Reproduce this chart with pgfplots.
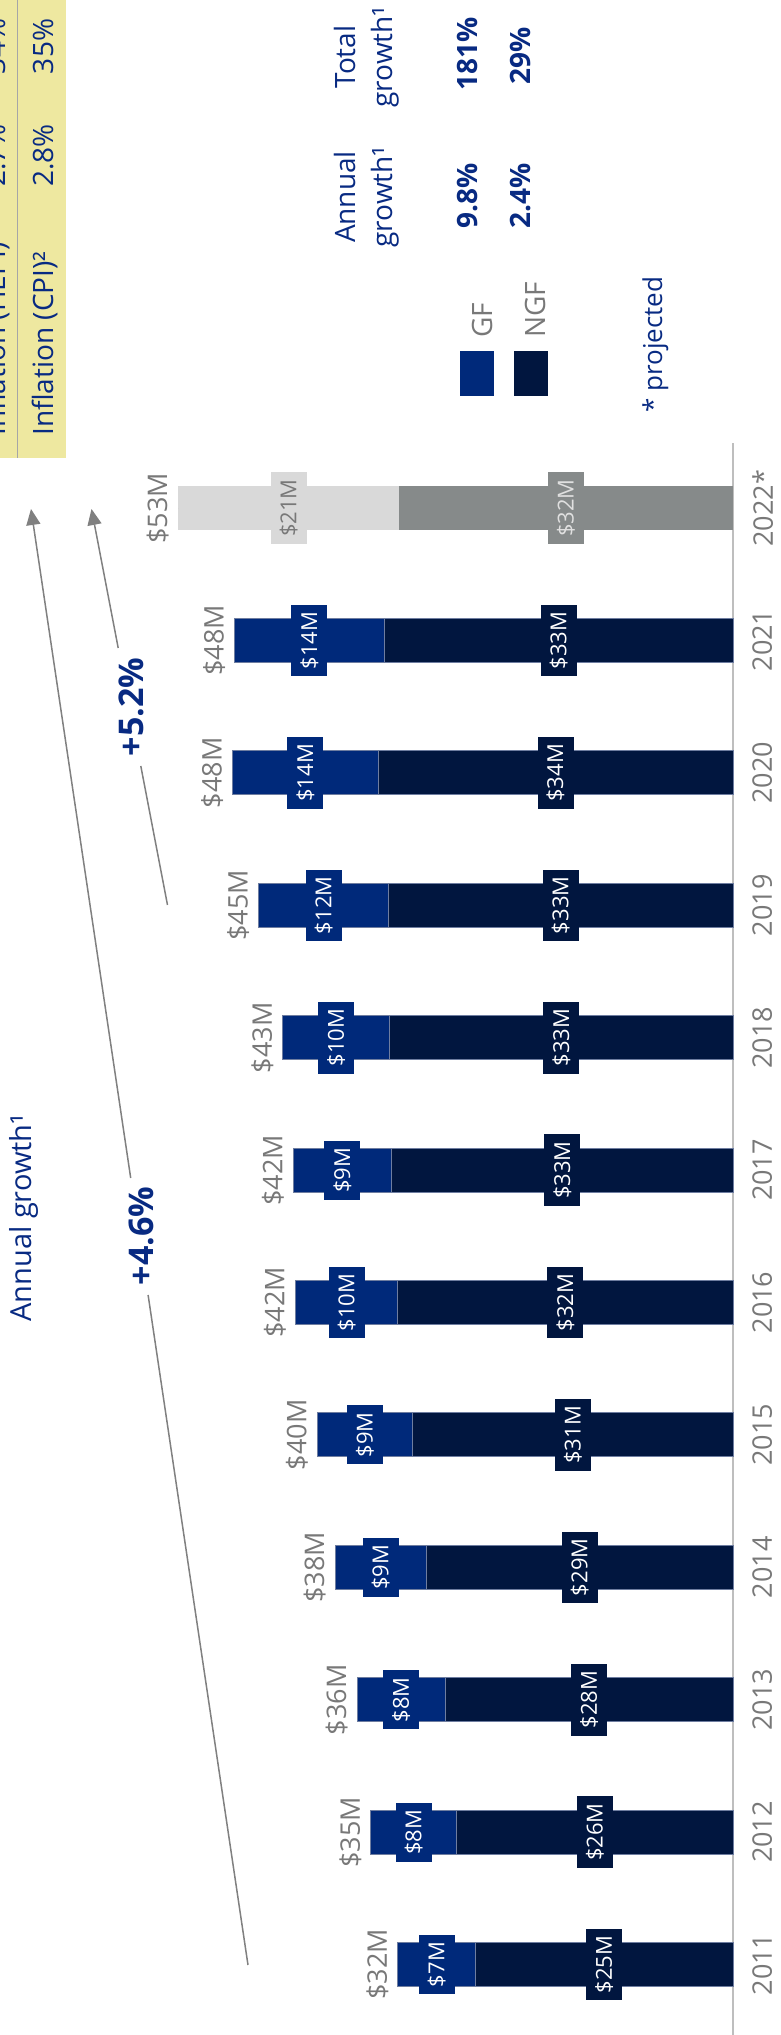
\documentclass[border=0pt]{standalone}
\usepackage{pgfplots}
\pgfplotsset{compat=1.18}
\usepackage{pgfplotstable}
\usepackage{fontspec}
\setmainfont{Open Sans}
\usetikzlibrary{arrows.meta}

\definecolor{gfc}{RGB}{0,41,122}
\definecolor{ngfc}{RGB}{1,22,63}
\definecolor{bluet}{RGB}{8,42,130}
\definecolor{graytxt}{RGB}{120,120,120}
\definecolor{axgray}{RGB}{190,190,190}
\definecolor{lg}{RGB}{217,217,217}
\definecolor{dg}{RGB}{134,138,138}
\definecolor{yel}{RGB}{238,232,160}
\definecolor{edge}{RGB}{110,125,160}
\definecolor{arrowg}{RGB}{128,128,128}

\newcommand\segf{\fontsize{11}{13}\selectfont}
\newcommand\totf{\fontsize{13.5}{15}\selectfont}
\newcommand\txtf{\fontsize{14}{16}\selectfont}

\pgfplotstableread{
y ngf gf ngfl gfl totl
0 24.6 7.4 25 7 32
1 26.4 8.2 26 8 35
2 27.5 8.4 28 8 36
3 29.3 8.7 29 9 38
4 30.6 9.1 31 9 40
5 32.0 9.8 32 10 42
6 32.6 9.4 33 9 42
7 32.8 10.2 33 10 43
8 32.9 12.4 33 12 45
9 33.9 13.9 34 14 48
10 33.3 14.3 33 14 48
}\data
\pgfplotstableread{
y ngf gf ngfl gfl totl
11 31.9 21.1 32 21 53
}\datap

\begin{document}
\begin{tikzpicture}
\path[use as bounding box] (0,0) rectangle (390.5pt,1017.5pt);
\begin{axis}[
  at={(366.5pt,796pt)}, anchor=north east,
  scale only axis, width=314.1pt, height=796pt,
  xmin=-60, xmax=0, ymin=-0.5325, ymax=11.492,
  axis x line=none, axis y line*=right,
  y axis line style={draw=axgray, line width=0.75pt},
  ytick={0,1,2,3,4,5,6,7,8,9,10,11},
  yticklabels={2011,2012,2013,2014,2015,2016,2017,2018,2019,2020,2021,2022*},
  major tick length=0pt,
  yticklabel style={xshift=9.5pt, rotate=90, anchor=north, inner sep=0pt, font=\totf, text=graytxt},
  clip=false,
]
% bars (total in GF colour, NGF on top)
\addplot[xbar, bar shift=0pt, bar width=22pt, fill=gfc, draw=edge, line width=0.5pt]
  table[x expr=-(\thisrow{ngf}+\thisrow{gf}), y=y] {\data};
\addplot[xbar, bar shift=0pt, bar width=22pt, fill=ngfc, draw=edge, line width=0.5pt]
  table[x expr=-\thisrow{ngf}, y=y] {\data};
\addplot[xbar, bar shift=0pt, bar width=22pt, fill=lg, draw=none]
  table[x expr=-(\thisrow{ngf}+\thisrow{gf}), y=y] {\datap};
\addplot[xbar, bar shift=0pt, bar width=22pt, fill=dg, draw=none]
  table[x expr=-\thisrow{ngf}, y=y] {\datap};
% segment labels
\addplot[only marks, mark=*, mark size=0pt, mark options={draw=none,fill=none},
  point meta=explicit symbolic, nodes near coords={\$\pgfplotspointmeta M},
  every node near coord/.style={anchor=center, rotate=90, fill=ngfc, text=white, font=\segf, inner xsep=3.5pt, inner ysep=0pt, minimum height=18pt}]
  table[x expr=-\thisrow{ngf}/2, y=y, meta=ngfl] {\data};
\addplot[only marks, mark=*, mark size=0pt, mark options={draw=none,fill=none},
  point meta=explicit symbolic, nodes near coords={\$\pgfplotspointmeta M},
  every node near coord/.style={anchor=center, rotate=90, fill=gfc, text=white, font=\segf, inner xsep=3.5pt, inner ysep=0pt, minimum height=18pt}]
  table[x expr=-(\thisrow{ngf}+\thisrow{gf}/2), y=y, meta=gfl] {\data};
\addplot[only marks, mark=*, mark size=0pt, mark options={draw=none,fill=none},
  point meta=explicit symbolic, nodes near coords={\$\pgfplotspointmeta M},
  every node near coord/.style={anchor=center, rotate=90, fill=dg, text=white!88!black, font=\segf, inner xsep=3.5pt, inner ysep=0pt, minimum height=18pt}]
  table[x expr=-\thisrow{ngf}/2, y=y, meta=ngfl] {\datap};
\addplot[only marks, mark=*, mark size=0pt, mark options={draw=none,fill=none},
  point meta=explicit symbolic, nodes near coords={\$\pgfplotspointmeta M},
  every node near coord/.style={anchor=center, rotate=90, fill=lg, text=graytxt, font=\segf, inner xsep=3.5pt, inner ysep=0pt, minimum height=18pt}]
  table[x expr=-(\thisrow{ngf}+\thisrow{gf}/2), y=y, meta=gfl] {\datap};
% totals
\addplot[only marks, mark=*, mark size=0pt, mark options={draw=none,fill=none},
  point meta=explicit symbolic, nodes near coords={\$\pgfplotspointmeta M},
  every node near coord/.style={xshift=-4.5pt, rotate=90, anchor=south, inner sep=0pt, text=graytxt, font=\totf}]
  table[x expr=-(\thisrow{ngf}+\thisrow{gf}), y=y, meta=totl] {\data};
\addplot[only marks, mark=*, mark size=0pt, mark options={draw=none,fill=none},
  point meta=explicit symbolic, nodes near coords={\$\pgfplotspointmeta M},
  every node near coord/.style={xshift=-4.5pt, rotate=90, anchor=south, inner sep=0pt, text=graytxt, font=\totf}]
  table[x expr=-(\thisrow{ngf}+\thisrow{gf}), y=y, meta=totl] {\datap};
\end{axis}

\begin{scope}[yshift=1017.5pt, x=0.5pt, y=-0.5pt]
% yellow table
\fill[yel] (0,0) rectangle (66,458);
\draw[gray!70, line width=0.6pt] (17.7,0) -- (17.7,458);
\begin{scope}[every node/.style={rotate=90, inner sep=0pt, text=bluet, font=\txtf}]
\node[anchor=base west] at (5,436) {Inflation (HEPI)²};
\node[anchor=base] at (5,155.5) {2.7\%};
\node[anchor=base] at (5,46.5) {34\%};
\node[anchor=base west] at (53,436) {Inflation (CPI)²};
\node[anchor=base] at (53,155.5) {2.8\%};
\node[anchor=base] at (53,46.5) {35\%};
% growth table
\node[anchor=base] at (355,57) {Total};
\node[anchor=base] at (392,57) {growth¹};
\node[anchor=base] at (355,197) {Annual};
\node[anchor=base] at (392,197) {growth¹};
\node[anchor=base, font=\txtf\bfseries] at (477,54) {181\%};
\node[anchor=base, font=\txtf\bfseries] at (530,56) {29\%};
\node[anchor=base, font=\txtf\bfseries] at (477,196) {9.8\%};
\node[anchor=base, font=\txtf\bfseries] at (530,196) {2.4\%};
% legend
\node[anchor=base west, text=graytxt] at (492,338) {GF};
\node[anchor=base west, text=graytxt] at (545,338) {NGF};
\node[anchor=base west, font=\fontsize{13}{15}\selectfont] at (662,413) {* projected};
% annotations
\node[anchor=base, font=\fontsize{14.5}{16}\selectfont] at (31,1218) {Annual growth¹};
\node[anchor=base, font=\fontsize{17}{19}\selectfont\bfseries] at (153,1236) {+4.6\%};
\node[anchor=base, font=\fontsize{17}{19}\selectfont\bfseries] at (143,707) {+5.2\%};
\end{scope}
\fill[gfc] (460,351) rectangle (494,396);
\fill[ngfc] (514,351) rectangle (548,396);
% arrows
\draw[arrowg, line width=0.75pt] (248,1965) -- (148.1,1295);
\draw[arrowg, line width=0.75pt, -{Triangle[width=7pt,length=8pt]}] (130.7,1178) -- (31,509);
\draw[arrowg, line width=0.75pt] (167.5,905) -- (140.8,766);
\draw[arrowg, line width=0.75pt, -{Triangle[width=7pt,length=8pt]}] (118.2,648) -- (91.5,509);
\end{scope}
\end{tikzpicture}
\end{document}
